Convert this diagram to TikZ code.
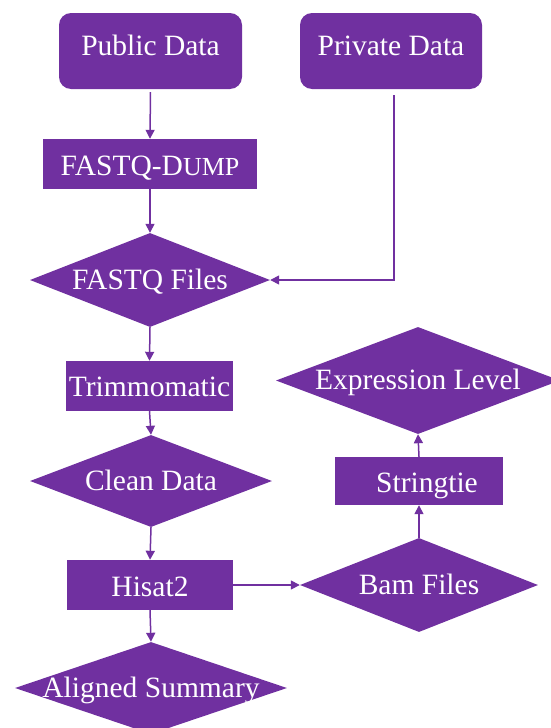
\documentclass[tikz,border=0pt]{standalone}
\usepackage{fontspec}
\setmainfont{Liberation Serif}
\newfontfamily\tnrfont{Liberation Serif}
\usetikzlibrary{shapes.geometric,arrows.meta}
\definecolor{pp}{RGB}{112,48,160}
\begin{document}
\begin{tikzpicture}[x=1pt,y=-1pt,
  every node/.style={font=\tnrfont\fontsize{29.5}{32}\selectfont, text=white},
  rbox/.style={draw=none, fill=pp, rectangle, rounded corners=12pt, inner sep=0pt, text height=42pt, text depth=34pt},
  sbox/.style={draw=none, fill=pp, rectangle, inner sep=0pt},
  dbox/.style={draw=none, fill=pp, diamond, inner sep=0pt, text height=20pt, text depth=2pt},
  conn/.style={draw=pp, line width=1.5pt, -{Triangle[length=9pt,width=9pt]}}
]
\useasboundingbox (0,0) rectangle (550,728);

\node[rbox, minimum width=183pt] (pub) at (150.5,51) {Public Data};
\node[rbox, minimum width=182pt] (priv) at (391,51) {Private Data};

\node[sbox, minimum width=214pt, text height=36pt, text depth=14pt] (dump) at (150,164) {FASTQ-D{\fontsize{26}{30}\selectfont UMP}};

\node[dbox, minimum width=240pt, minimum height=94pt] (fq) at (150,280) {\makebox[0pt]{FASTQ Files}};

\node[sbox, minimum width=167pt, text height=35pt, text depth=15pt] (trim) at (149.5,386) {Trimmomatic};

\node[dbox, minimum width=242pt, minimum height=92pt] (clean) at (151,481) {\makebox[0pt]{Clean Data}};

\node[sbox, minimum width=166pt, text height=36pt, text depth=14pt] (hisat) at (150,585) {Hisat2};

\node[dbox, minimum width=272pt, minimum height=92pt] (align) at (151,688) {\makebox[0pt]{Aligned Summary}};

\node[dbox, minimum width=238pt, minimum height=94pt] (bam) at (419,585) {\makebox[0pt]{Bam Files}};

\node[sbox, minimum width=168pt, text height=35pt, text depth=13pt] (str) at (419,481) {\hspace*{16pt}Stringtie};

\node[dbox, minimum width=284pt, minimum height=107pt] (expr) at (418,380.5) {\makebox[0pt]{Expression Level}};

\draw[conn, shorten <=3pt] (pub.south) -- (dump.north);
\draw[conn] (dump.south) -- (fq.north);
\draw[conn, shorten <=6pt] ([xshift=3pt]priv.south) |- (fq.east);
\draw[conn] (fq.south) -- (trim.north);
\draw[conn] (trim.south) -- (clean.north);
\draw[conn] (clean.south) -- (hisat.north);
\draw[conn] (hisat.south) -- (align.north);
\draw[conn] (hisat.east) -- (bam.west);
\draw[conn] (bam.north) -- (str.south);
\draw[conn] (str.north) -- (expr.south);
\end{tikzpicture}
\end{document}
